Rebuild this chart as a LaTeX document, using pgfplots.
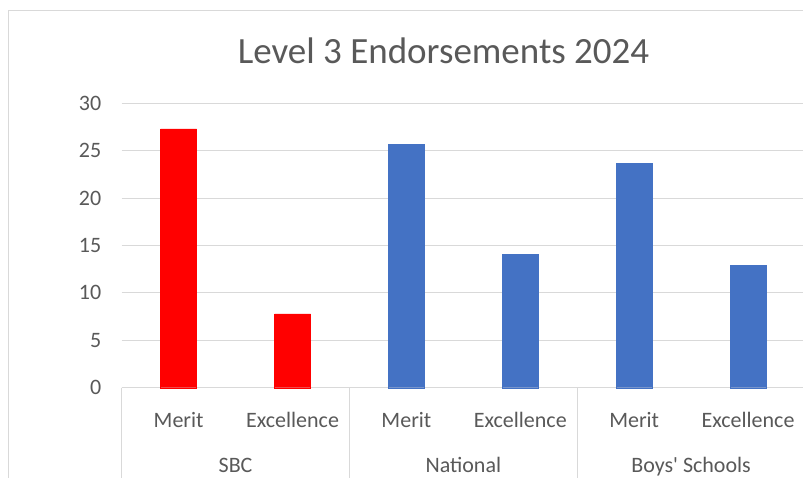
\documentclass[border=0pt]{standalone}
\usepackage{fontspec}
\setmainfont{Carlito}
\usepackage{pgfplots}
\pgfplotsset{compat=1.18}
\definecolor{txt}{HTML}{595959}
\definecolor{gridgray}{HTML}{D9D9D9}
\definecolor{sbcred}{HTML}{FF0000}
\definecolor{xlblue}{HTML}{4472C4}
\begin{document}
\begin{tikzpicture}[x=1pt,y=1pt]
\useasboundingbox (0,0) rectangle (803,477);
\fill[white] (0,0) rectangle (803,477);
\draw[gridgray, line width=1pt] (8,-20) -- (8,466) -- (850,466);
\node[anchor=base, text=txt, font=\fontsize{37}{44}\selectfont] at (443.5,413.7) {Level 3 Endorsements 2024};
\begin{axis}[
  at={(121.7pt,89.3pt)}, anchor=south west,
  scale only axis, width=683.3pt, height=284.4pt,
  xmin=-0.5, xmax=5.5, ymin=0, ymax=30,
  ytick={0,5,...,30},
  xtick={0,1,2,3,4,5},
  xticklabels={Merit,Excellence,Merit,Excellence,Merit,Excellence},
  xticklabel style={anchor=base, yshift=-39.3pt, text=txt, font=\fontsize{22}{26}\selectfont},
  yticklabel style={xshift=-17pt, text=txt, font=\fontsize{22}{26}\selectfont},
  /pgf/number format/assume math mode=true,
  major tick length=0pt,
  xmajorgrids=false, ymajorgrids=true,
  y grid style={draw=gridgray, line width=1pt},
  axis x line=bottom, axis y line=left,
  x axis line style={-, draw=gridgray, line width=1pt},
  y axis line style={draw=none},
  ybar, bar width=36pt, bar shift=0pt,
  clip=false,
]
\addplot[fill=sbcred, draw=sbcred] coordinates {(0,27.3) (1,7.8)};
\addplot[fill=xlblue, draw=xlblue] coordinates {(2,25.7) (3,14.1) (4,23.7) (5,12.9)};
\draw[gridgray, line width=1pt] (axis cs:-0.5,0) -- ([yshift=-100pt]axis cs:-0.5,0);
\draw[gridgray, line width=1pt] (axis cs:1.5,0) -- ([yshift=-100pt]axis cs:1.5,0);
\draw[gridgray, line width=1pt] (axis cs:3.5,0) -- ([yshift=-100pt]axis cs:3.5,0);
\draw[gridgray, line width=1pt] (axis cs:5.5,0) -- ([yshift=-100pt]axis cs:5.5,0);
\node[anchor=base, text=txt, font=\fontsize{22}{26}\selectfont] at ([yshift=-84.3pt]axis cs:0.5,0) {SBC};
\node[anchor=base, text=txt, font=\fontsize{22}{26}\selectfont] at ([yshift=-84.3pt]axis cs:2.5,0) {National};
\node[anchor=base, text=txt, font=\fontsize{22}{26}\selectfont] at ([yshift=-84.3pt]axis cs:4.5,0) {Boys\textquotesingle\ Schools};
\end{axis}
\end{tikzpicture}
\end{document}
